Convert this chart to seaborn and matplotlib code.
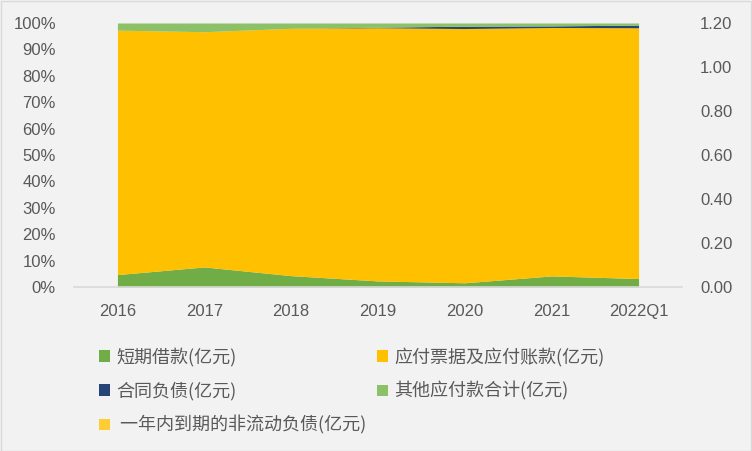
import numpy as np
import matplotlib
matplotlib.use("Agg")
import matplotlib.pyplot as plt
import seaborn as sns
from matplotlib.patches import Patch
from matplotlib.ticker import PercentFormatter, FormatStrFormatter

periods = ["2016", "2017", "2018", "2019", "2020", "2021", "2022Q1"]
short_loan = [4.7, 7.6, 4.3, 2.3, 1.6, 4.2, 3.2]
payables = [92.6, 89.1, 93.7, 95.9, 96.3, 94.1, 95.0]
contract = [0.0, 0.0, 0.0, 0.2, 0.9, 0.6, 1.0]
other_pay = [2.7, 3.3, 2.0, 1.6, 1.2, 1.1, 0.8]
current_nc = [0.0, 0.0, 0.0, 0.0, 0.0, 0.0, 0.0]

labels = ["短期借款(亿元)", "应付票据及应付账款(亿元)", "合同负债(亿元)",
          "其他应付款合计(亿元)", " 一年内到期的非流动负债(亿元)"]
colors = ["#70AD47", "#FFC000", "#264478", "#8CC168", "#FFCD33"]

sns.set_style("white")
plt.rcParams['font.family'] = ['Liberation Sans', 'Noto Sans CJK SC', 'DejaVu Sans']
txt = "#595959"
bg = "#F2F2F2"

series = np.array([short_loan, payables, contract, other_pay, current_nc])
share = series / series.sum(axis=0)
x = np.arange(len(periods))

fig = plt.figure(figsize=(7.52, 4.51), dpi=100, facecolor=bg)
ax = fig.add_axes([74 / 752, 1 - 287 / 451, 608 / 752, 264 / 451])
ax.set_facecolor(bg)
ax.stackplot(x, share, colors=colors, linewidth=0)

ax.set_xlim(-0.5, 6.5)
ax.set_ylim(0, 1)
ax.set_xticks(x)
ax.set_xticklabels(periods)
ax.set_yticks(np.arange(0, 1.01, 0.1))
ax.yaxis.set_major_formatter(PercentFormatter(1.0, decimals=0))
ax.tick_params(length=0, labelsize=12, colors=txt, pad=13)
ax.tick_params(axis="x", pad=12)
for s in ["top", "right", "left"]:
    ax.spines[s].set_visible(False)
ax.spines["bottom"].set_color("#D9D9D9")
ax.spines["bottom"].set_linewidth(1.2)

ax2 = ax.twinx()
ax2.set_ylim(0, 1.2)
ax2.set_yticks(np.arange(0, 1.21, 0.2))
ax2.yaxis.set_major_formatter(FormatStrFormatter("%.2f"))
ax2.tick_params(length=0, labelsize=12, colors=txt, pad=13)
for s in ax2.spines.values():
    s.set_visible(False)

handles = [Patch(facecolor=c, edgecolor="none") for c in colors]
order = [0, 2, 4, 1, 3]
leg = fig.legend([handles[i] for i in order], [labels[i] for i in order],
                 ncol=2, loc="upper left", bbox_to_anchor=(83 / 752, 1 - 331 / 451),
                 frameon=False, handlelength=0.6, handleheight=0.6,
                 handletextpad=0.35, columnspacing=0.6, labelspacing=0.85,
                 prop={"family": ["Noto Sans CJK SC", "DejaVu Sans"], "size": 13})
for t in leg.get_texts():
    t.set_color(txt)

fig.patches.append(plt.Rectangle((0.001, 0.001), 0.998, 0.997, transform=fig.transFigure,
                                 fill=False, edgecolor="#D9D9D9", linewidth=1))
fig.savefig("out.png", dpi=100, facecolor=bg)
